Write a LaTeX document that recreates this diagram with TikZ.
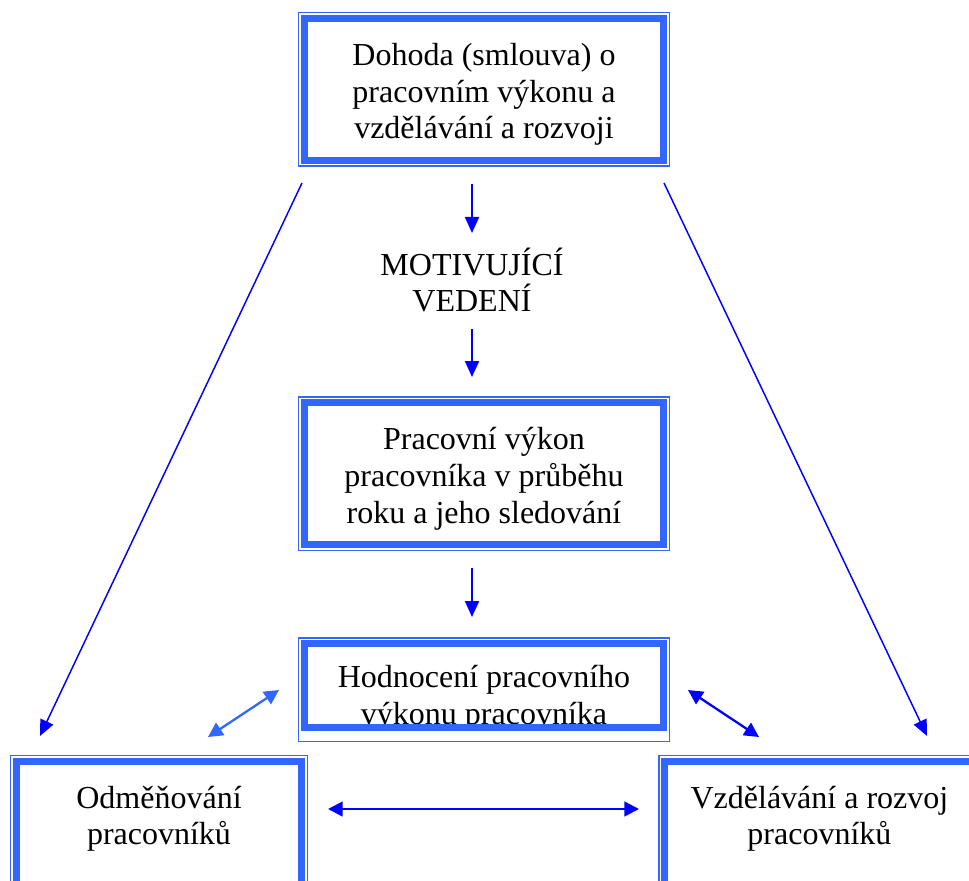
\documentclass[tikz,border=0pt]{standalone}
\usepackage{fontspec}
\setmainfont{Liberation Serif}
\usetikzlibrary{arrows.meta}

\definecolor{rimblue}{RGB}{51,102,255}
\definecolor{linkblue}{RGB}{0,0,255}

\tikzset{
  panel/.style={rectangle, inner sep=0pt, outer sep=0pt},
  caption/.style={align=center, inner sep=0pt, font=\fontsize{24}{27.6}\selectfont},
  rim/.style={draw=rimblue, line width=1.1pt},
  band/.style={draw=rimblue, line width=5.2pt},
  flow/.style={draw=linkblue, line width=1.5pt, -{Triangle[length=12pt,width=10.5pt]}},
  longflow/.style={draw=linkblue, line width=1.1pt, -{Triangle[length=12pt,width=10.5pt]}},
  twoway/.style={draw=#1, line width=1.7pt, {Triangle[length=11pt,width=11pt]}-{Triangle[length=11pt,width=11pt]}},
}

\begin{document}
\begin{tikzpicture}[x=0.75pt, y=-0.75pt]
        \useasboundingbox (0,0) rectangle (969,880);
        \clip (0,0) rectangle (969,880);

        % the five boxes
        \node[panel, minimum width=277.9pt, minimum height=115.1pt] (top) at (484,89.5) {};
        \node[panel, minimum width=277.9pt, minimum height=115.1pt] (perf) at (484,473.5) {};
        \node[panel, minimum width=277.9pt, minimum height=77.6pt] (eval) at (484,689.5) {};
        \node[panel, anchor=north, minimum width=222.4pt, minimum height=130.7pt] (reward) at (159,755.75) {};
        \node[panel, anchor=north, minimum width=240.9pt, minimum height=130.7pt] (growth) at (819.4,755.75) {};

        % texts
        \node[caption] (toptxt) at ([shift={(0,5)}]top.center) {Dohoda (smlouva) o\\pracovním výkonu a\\vzdělávání a rozvoji};
        \node[caption] (motiv) at (472,280) {MOTIVUJÍCÍ\\VEDENÍ};
        \node[caption] (perftxt) at ([shift={(0,5)}]perf.center) {Pracovní výkon\\pracovníka v průběhu\\roku a jeho sledování};
        \node[caption] (evaltxt) at ([shift={(0,9)}]eval.center) {Hodnocení pracovního\\výkonu pracovníka};
        \node[caption] (rewardtxt) at ([shift={(0,63)}]reward.north) {Odměňování\\pracovníků};
        \node[caption] (growthtxt) at ([shift={(0,63)}]growth.north) {Vzdělávání a rozvoj\\pracovníků};

        % frames (the lower band of the evaluation box sits higher and cuts its text)
        \foreach \b/\low in {top/6,perf/6,eval/13.5,reward/6,growth/6}{
          \draw[rim] (\b.north west) rectangle (\b.south east);
          \fill[white] ([shift={(3,-\low)}]\b.south west) rectangle ([shift={(-3,-3)}]\b.south east);
          \draw[band] ([shift={(6,6)}]\b.north west) rectangle ([shift={(-6,-\low)}]\b.south east);
        }

        % arrow ends
        \coordinate (d1a) at (472,184);
        \coordinate (d1b) at (472,233);
        \coordinate (d2a) at (472,329);
        \coordinate (d2b) at (472,377);
        \coordinate (d3a) at (472,568);
        \coordinate (d3b) at (472,617);
        \coordinate (la) at (302,183);
        \coordinate (lb) at (40,736);
        \coordinate (ra) at (664,183);
        \coordinate (rb) at (927,736);
        \coordinate (ela) at (208,737);
        \coordinate (elb) at (279,690);
        \coordinate (era) at (688,690);
        \coordinate (erb) at (759,737);
        \coordinate (ha) at (328,809);
        \coordinate (hb) at (639,809);

        \draw[flow] (d1a) -- (d1b);
        \draw[flow] (d2a) -- (d2b);
        \draw[flow] (d3a) -- (d3b);
        \draw[longflow] (la) -- (lb);
        \draw[longflow] (ra) -- (rb);
        \draw[twoway=rimblue] (ela) -- (elb);
        \draw[twoway=linkblue] (era) -- (erb);
        \draw[twoway=linkblue] (ha) -- (hb);
\end{tikzpicture}
\end{document}
